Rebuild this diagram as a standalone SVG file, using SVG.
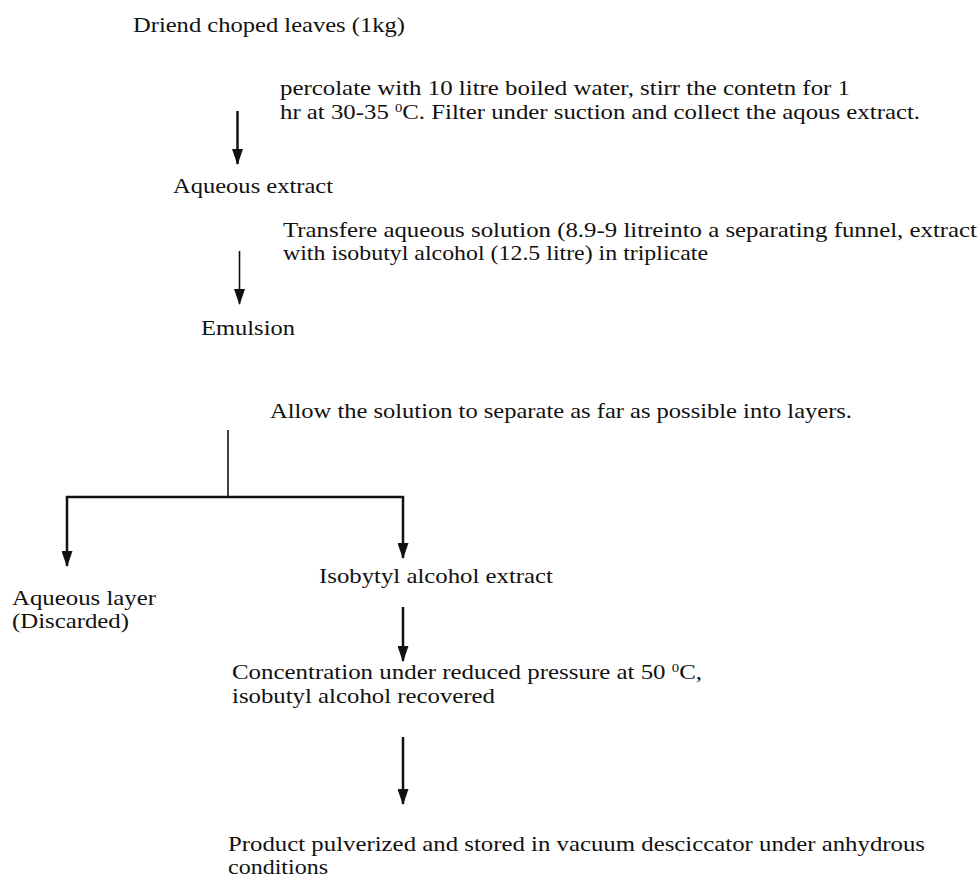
<svg xmlns="http://www.w3.org/2000/svg" width="980" height="879" viewBox="0 0 980 879">
<style>
.t { font-family: 'Liberation Serif', 'DejaVu Serif', serif; font-size: 22px; fill: #111; }
.sup { font-size: 13px; }
.c { fill: none; stroke: #111; stroke-width: 2.5; }
.thin { stroke-width: 1.6; }
</style>
<defs>
<marker id="ah" markerUnits="userSpaceOnUse" markerWidth="16" markerHeight="11" refX="15" refY="5.5" orient="auto" viewBox="0 0 16 11">
<path d="M0,0 L16,5.5 L0,11 z" fill="#111"/>
</marker>
</defs>
<rect width="980" height="879" fill="#fff"/>
<g id="connectors">
<line class="c" x1="237.5" y1="111" x2="237.5" y2="164" marker-end="url(#ah)"/>
<line class="c thin" x1="239.5" y1="251" x2="239.5" y2="304" marker-end="url(#ah)"/>
<line class="c thin" x1="228" y1="430" x2="228" y2="497"/>
<path class="c" d="M228,497 L67,497 L67,566" marker-end="url(#ah)"/>
<path class="c" d="M228,497 L403,497 L403,558" marker-end="url(#ah)"/>
<line class="c" x1="403" y1="607" x2="403" y2="661" marker-end="url(#ah)"/>
<line class="c" x1="403" y1="737" x2="403" y2="804" marker-end="url(#ah)"/>
</g>
<g id="n-leaves"><text class="t" x="133" y="32" textLength="272" lengthAdjust="spacingAndGlyphs">Driend choped leaves (1kg)</text></g>
<g id="n-percolate">
<text class="t" x="280" y="95" textLength="570" lengthAdjust="spacingAndGlyphs">percolate with 10 litre boiled water, stirr the contetn for 1</text>
<text class="t" x="280" y="119" textLength="640" lengthAdjust="spacingAndGlyphs">hr at 30-35 <tspan class="sup" dy="-7">0</tspan><tspan dy="7">C. Filter under suction and collect the aqous extract.</tspan></text>
</g>
<g id="n-aqueous-extract"><text class="t" x="173" y="193" textLength="160" lengthAdjust="spacingAndGlyphs">Aqueous extract</text></g>
<g id="n-transfer">
<text class="t" x="283" y="237" textLength="694" lengthAdjust="spacingAndGlyphs">Transfere aqueous solution (8.9-9 litreinto a separating funnel, extract</text>
<text class="t" x="283" y="260" textLength="425" lengthAdjust="spacingAndGlyphs">with isobutyl alcohol (12.5 litre) in triplicate</text>
</g>
<g id="n-emulsion"><text class="t" x="201" y="335" textLength="94" lengthAdjust="spacingAndGlyphs">Emulsion</text></g>
<g id="n-allow"><text class="t" x="270" y="418" textLength="582" lengthAdjust="spacingAndGlyphs">Allow the solution to separate as far as possible into layers.</text></g>
<g id="n-aqueous-layer">
<text class="t" x="12" y="605" textLength="144" lengthAdjust="spacingAndGlyphs">Aqueous layer</text>
<text class="t" x="12" y="628" textLength="117" lengthAdjust="spacingAndGlyphs">(Discarded)</text>
</g>
<g id="n-isobutyl-extract"><text class="t" x="319" y="583" textLength="234" lengthAdjust="spacingAndGlyphs">Isobytyl alcohol extract</text></g>
<g id="n-concentration">
<text class="t" x="232" y="679" textLength="470" lengthAdjust="spacingAndGlyphs">Concentration under reduced pressure at 50 <tspan class="sup" dy="-7">0</tspan><tspan dy="7">C,</tspan></text>
<text class="t" x="232" y="703" textLength="263" lengthAdjust="spacingAndGlyphs">isobutyl alcohol recovered</text>
</g>
<g id="n-product">
<text class="t" x="228" y="851" textLength="697" lengthAdjust="spacingAndGlyphs">Product pulverized and stored in vacuum desciccator under anhydrous</text>
<text class="t" x="228" y="874" textLength="100" lengthAdjust="spacingAndGlyphs">conditions</text>
</g>
</svg>
